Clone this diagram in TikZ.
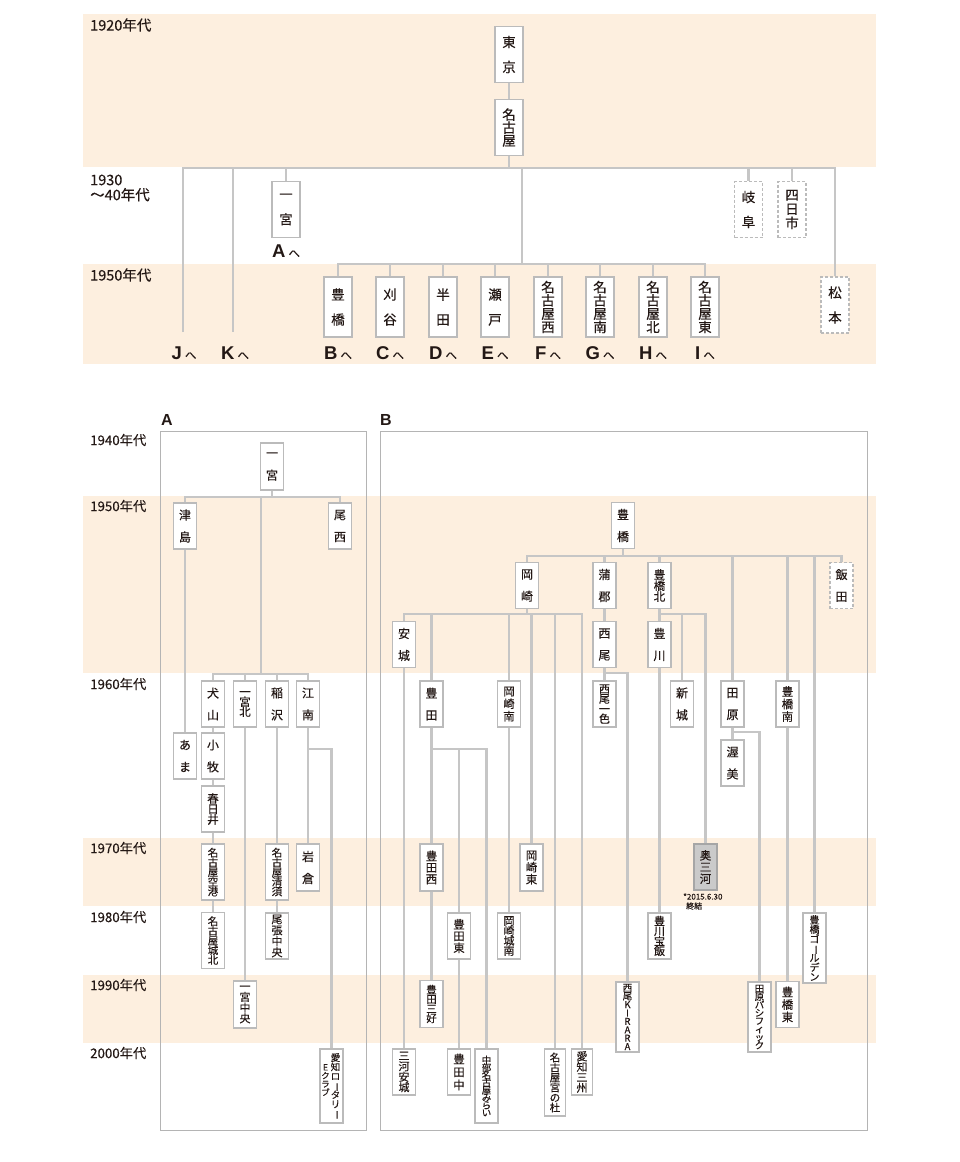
\documentclass[tikz,border=0pt]{standalone}
\usepackage{fontspec}
\usepackage{graphicx}
\setmainfont{Noto Sans CJK JP}
\newfontfamily\jpm{Noto Sans CJK JP}[FakeBold=0.3]
\newfontfamily\lsans{Liberation Sans}
\definecolor{bandc}{HTML}{FDEFDF}
\definecolor{lnc}{HTML}{C6C6C6}
\definecolor{bdc}{HTML}{BBBBBB}
\definecolor{frc}{HTML}{B4B4B4}
\definecolor{txc}{HTML}{231815}
\definecolor{gfill}{HTML}{CACACA}
\newcommand{\vlong}{\rotatebox[origin=c]{-90}{ー}}
\lineskiplimit=-50pt
\lineskip=0pt
\begin{document}
\begin{tikzpicture}[x=1pt,y=-1pt,
 ln/.style={draw=lnc,line width=2.4pt,line join=miter},
 bx/.style={draw=bdc,line width=1.6pt,fill=white,inner sep=0pt,align=center,text=txc},
 tbox/.style={bx,minimum width=28pt,minimum height=56pt,font=\jpm\fontsize{13.5}{13}\selectfont},
 sbox/.style={bx,minimum width=23pt,minimum height=46pt,font=\jpm\fontsize{12}{11.5}\selectfont},
 sz/.style 2 args={font=\jpm\fontsize{#1}{#2}\selectfont},
 dsh/.style={dash pattern=on 3pt off 2pt},
 yr/.style={anchor=west,text=txc,inner sep=0pt,align=left,font=\jpm\fontsize{14.5}{15}\selectfont},
 yrb/.style={anchor=west,text=txc,inner sep=0pt,font=\jpm\fontsize{13.3}{14}\selectfont},
 goto/.style={text=txc,inner sep=0pt,font=\lsans\bfseries\fontsize{18.5}{18}\selectfont},
 sec/.style={anchor=west,text=txc,inner sep=0pt,font=\lsans\bfseries\fontsize{16}{16}\selectfont},
]
\useasboundingbox (0,0) rectangle (960,1162);
% ---------- bands ----------
\fill[bandc] (83,14) rectangle (876,167);
\fill[bandc] (83,264) rectangle (876,364);
\fill[bandc] (83,496) rectangle (876,673);
\fill[bandc] (83,838) rectangle (876,906);
\fill[bandc] (83,975) rectangle (876,1043);
% frames
\draw[frc,line width=0.9pt] (160,431) rectangle (366,1130);
\draw[frc,line width=0.9pt] (380,431) rectangle (867,1130);
% ---------- year labels ----------
\node[yr] (y1920) at (90,25) {1920年代};
\node[yr] (y1930) at (90,188) {1930\\～40年代};
\node[yr] (y1950t) at (90,275) {1950年代};
\node[yrb] (y1940) at (90,440) {1940年代};
\node[yrb] (y1950) at (90,506) {1950年代};
\node[yrb] (y1960) at (90,684) {1960年代};
\node[yrb] (y1970) at (90,848) {1970年代};
\node[yrb] (y1980) at (90,917) {1980年代};
\node[yrb] (y1990) at (90,985) {1990年代};
\node[yrb] (y2000) at (90,1053) {2000年代};
\node[sec] (secA) at (161,420) {A};
\node[sec] (secB) at (380,420) {B};
% ---------- top nodes ----------
\node[tbox] (tokyo) at (509,54.5) {東\\[12pt]京};
\node[tbox] (nagoya) at (509,127.5) {名\\古\\屋};
\node[tbox] (ichi0) at (286,209.5) {一\\[12pt]宮};
\node[tbox,dsh] (gifu) at (748.5,209.5) {岐\\[12pt]阜};
\node[tbox,dsh,font=\jpm\fontsize{13.5}{14}\selectfont] (yokka) at (792,209.5) {四\\日\\市};
\node[tbox,dsh] (matsu) at (835,305) {松\\[12pt]本};
\node[tbox,minimum height=60pt] (toyo0) at (338,307) {豊\\[12pt]橋};
\node[tbox,minimum height=60pt] (kariya) at (390,307) {刈\\[12pt]谷};
\node[tbox,minimum height=60pt] (handa) at (443,307) {半\\[12pt]田};
\node[tbox,minimum height=60pt] (seto) at (495,307) {瀬\\[12pt]戸};
\node[tbox,minimum height=60pt,font=\jpm\fontsize{13.5}{13.3}\selectfont] (nnishi) at (548,307) {名\\古\\屋\\西};
\node[tbox,minimum height=60pt,font=\jpm\fontsize{13.5}{13.3}\selectfont] (nminami) at (600,307) {名\\古\\屋\\南};
\node[tbox,minimum height=60pt,font=\jpm\fontsize{13.5}{13.3}\selectfont] (nkita) at (653,307) {名\\古\\屋\\北};
\node[tbox,minimum height=60pt,font=\jpm\fontsize{13.5}{13.3}\selectfont] (nhigashi) at (705,307) {名\\古\\屋\\東};
% labels
\node[goto] (lA) at (286,251) {A\,{\jpm\mdseries\fontsize{11.5}{11}\selectfont へ}};
\node[goto] (lJ) at (184,353) {J\,{\jpm\mdseries\fontsize{11.5}{11}\selectfont へ}};
\node[goto] (lK) at (235,353) {K\,{\jpm\mdseries\fontsize{11.5}{11}\selectfont へ}};
\node[goto] (lB) at (338,353) {B\,{\jpm\mdseries\fontsize{11.5}{11}\selectfont へ}};
\node[goto] (lC) at (390,353) {C\,{\jpm\mdseries\fontsize{11.5}{11}\selectfont へ}};
\node[goto] (lD) at (443,353) {D\,{\jpm\mdseries\fontsize{11.5}{11}\selectfont へ}};
\node[goto] (lE) at (495,353) {E\,{\jpm\mdseries\fontsize{11.5}{11}\selectfont へ}};
\node[goto] (lF) at (548,353) {F\,{\jpm\mdseries\fontsize{11.5}{11}\selectfont へ}};
\node[goto] (lG) at (600,353) {G\,{\jpm\mdseries\fontsize{11.5}{11}\selectfont へ}};
\node[goto] (lH) at (653,353) {H\,{\jpm\mdseries\fontsize{11.5}{11}\selectfont へ}};
\node[goto] (lI) at (705,353) {I\,{\jpm\mdseries\fontsize{11.5}{11}\selectfont へ}};
% top connectors
\coordinate (h1a) at (183,168);
\coordinate (h1b) at (835,168);
\coordinate (jend) at (183,332);
\coordinate (kt) at (233,168);
\coordinate (kend) at (233,332);
\coordinate (m50) at (522,168);
\coordinate (m50b) at (522,264);
\draw[ln] (tokyo) -- (nagoya);
\draw[ln] (nagoya.south) -- (nagoya.south |- h1a);
\draw[ln] (jend) -- (h1a) -- (h1b) -- (matsu.north);
\draw[ln] (kt) -- (kend);
\draw[ln] (ichi0.north |- h1a) -- (ichi0.north);
\draw[ln] (gifu.north |- h1a) -- (gifu.north);
\draw[ln] (yokka.north |- h1a) -- (yokka.north);
\draw[ln] (m50) -- (m50b);
\draw[ln] (toyo0.north) -- (toyo0.north |- m50b) -- (nhigashi.north |- m50b) -- (nhigashi.north);
\foreach \n in {kariya,handa,seto,nnishi,nminami,nkita}
  \draw[ln] (\n.north |- m50b) -- (\n.north);
% ---------- frame A ----------
\node[sbox,minimum height=47pt] (ichi) at (272,466.5) {一\\[10.5pt]宮};
\node[sbox] (tsushima) at (185,526) {津\\[10.5pt]島};
\node[sbox] (bisai) at (340,526) {尾\\[10.5pt]西};
\node[sbox] (inuyama) at (213,704) {犬\\[10.5pt]山};
\node[sbox,sz={11.5}{10}] (ichikita) at (245,704) {一\\宮\\北};
\node[sbox] (inazawa) at (277,704) {稲\\[10.5pt]沢};
\node[sbox] (konan) at (308,704) {江\\[10.5pt]南};
\node[sbox] (ama) at (185,756) {あ\\[10.5pt]ま};
\node[sbox] (komaki) at (213,756) {小\\[10.5pt]牧};
\node[sbox,sz={11.5}{10.5}] (kasugai) at (213,809) {春\\日\\井};
\node[sbox,minimum height=56pt,sz={10.5}{9.7}] (nkuko) at (213,872) {名\\古\\屋\\空\\港};
\node[sbox,minimum height=56pt,sz={10.5}{9.7}] (njohoku) at (213,940.5) {名\\古\\屋\\城\\北};
\node[sbox,minimum height=47pt,sz={11}{10.7}] (ichichuo) at (245,1004.5) {一\\宮\\中\\央};
\node[sbox,minimum height=56pt,sz={10.5}{9.7}] (nkiyosu) at (277,872) {名\\古\\屋\\清\\須};
\node[sbox,sz={11}{11}] (owari) at (277,936) {尾\\張\\中\\央};
\node[sbox,minimum height=47pt] (iwakura) at (308,867.5) {岩\\[10.5pt]倉};
\node[sbox,minimum height=74pt] (aichirot) at (331.5,1086) {};
\node[inner sep=0pt,align=center,text=txc,anchor=north,font=\jpm\fontsize{9.5}{9.3}\selectfont] (arot1) at (335.5,1053) {愛\\知\\ロ\\\vlong\\タ\\リ\\\vlong};
\node[inner sep=0pt,align=center,text=txc,anchor=north,font=\jpm\fontsize{8.5}{8.4}\selectfont] (arot2) at (325.5,1064) {E\\ク\\ラ\\ブ};
% frame A connectors
\coordinate (a1) at (261,497);
\coordinate (a2) at (261,674);
\coordinate (a3) at (308,749);
\draw[ln] (ichi.south) -- (ichi.south |- a1);
\draw[ln] (tsushima.north) -- (tsushima.north |- a1) -- (bisai.north |- a1) -- (bisai.north);
\draw[ln] (a1) -- (a2);
\draw[ln] (inuyama.north) -- (inuyama.north |- a2) -- (konan.north |- a2) -- (konan.north);
\draw[ln] (ichikita.north |- a2) -- (ichikita.north);
\draw[ln] (inazawa.north |- a2) -- (inazawa.north);
\draw[ln] (tsushima) -- (ama);
\draw[ln] (inuyama) -- (komaki);
\draw[ln] (komaki) -- (kasugai);
\draw[ln] (kasugai) -- (nkuko);
\draw[ln] (nkuko) -- (njohoku);
\draw[ln] (ichikita) -- (ichichuo);
\draw[ln] (inazawa) -- (nkiyosu);
\draw[ln] (nkiyosu) -- (owari);
\draw[ln] (konan) -- (iwakura);
\draw[ln] (a3) -- (aichirot.north |- a3) -- (aichirot.north);
% ---------- frame B ----------
\node[sbox] (toyohashi) at (623,525.5) {豊\\[10.5pt]橋};
\node[sbox] (okazaki) at (527,585.5) {岡\\[10.5pt]崎};
\node[sbox] (gamagori) at (604.5,585.5) {蒲\\[10.5pt]郡};
\node[sbox,sz={11.5}{11}] (tkita) at (659.5,585.5) {豊\\橋\\北};
\node[sbox,dsh] (iida) at (841.5,585.5) {飯\\[10.5pt]田};
\node[sbox] (anjo) at (404,644.5) {安\\[10.5pt]城};
\node[sbox] (nishio) at (604.5,644.5) {西\\[10.5pt]尾};
\node[sbox] (toyokawa) at (659.5,644.5) {豊\\[10.5pt]川};
\node[sbox] (toyota) at (431.5,704) {豊\\[10.5pt]田};
\node[sbox,sz={11.5}{12.5}] (okminami) at (509,704) {岡\\崎\\南};
\node[sbox,sz={11}{10}] (nishioisshiki) at (604.5,704) {西\\尾\\一\\色};
\node[sbox] (shinshiro) at (682,704) {新\\[10.5pt]城};
\node[sbox] (tahara) at (732.5,704) {田\\[10.5pt]原};
\node[sbox,sz={11.5}{12.5}] (tminami) at (787.5,704) {豊\\橋\\南};
\node[sbox] (atsumi) at (732.5,763) {渥\\[10.5pt]美};
\node[sbox,minimum height=47pt,sz={11.5}{11.5}] (toyotanishi) at (431.5,867.5) {豊\\田\\西};
\node[sbox,minimum height=47pt,sz={11.5}{12}] (okhigashi) at (531.5,867.5) {岡\\崎\\東};
\node[sbox,fill=gfill,draw=gray!70,sz={11.5}{11.7}] (okumikawa) at (705.5,867) {奥\\三\\河};
\node[inner sep=0pt,anchor=north west,align=left,text=txc,font=\jpm\fontsize{8}{9.5}\selectfont] (note) at (683,893) {*2015.6.30\\\hspace*{3pt}終結};
\node[sbox,sz={11.5}{11.7}] (toyotahigashi) at (459,936) {豊\\田\\東};
\node[sbox,sz={11}{10}] (okjonan) at (509,936) {岡\\崎\\城\\南};
\node[sbox,sz={11}{10}] (toyokawahoi) at (659.5,936) {豊\\川\\宝\\飯};
\node[sbox,minimum height=70pt,sz={10}{9.5}] (tgolden) at (814.5,948) {豊\\橋\\ゴ\\\vlong\\ル\\デ\\ン};
\node[sbox,minimum height=47pt,sz={10.5}{9.5}] (toyotamiyoshi) at (431.5,1004) {豊\\田\\三\\好};
\node[sbox,minimum height=70pt,sz={9.5}{8.4}] (nkirara) at (627.5,1017) {西\\尾\\K\\I\\R\\A\\R\\A};
\node[sbox,minimum height=70pt,sz={9.5}{8.1}] (taharapac) at (759.5,1017) {田\\原\\パ\\シ\\フ\\ィ\\ッ\\ク};
\node[sbox,sz={11.5}{12.5}] (thigashi) at (787.5,1004.5) {豊\\橋\\東};
\node[sbox,sz={11}{10.5}] (mikawaanjo) at (404,1072) {三\\河\\安\\城};
\node[sbox,sz={11.5}{13}] (toyotanaka) at (459,1072) {豊\\田\\中};
\node[sbox,minimum height=74pt,sz={9.5}{7.5}] (chubu) at (486.5,1086) {中\\部\\名\\古\\屋\\み\\ら\\い};
\node[sbox,minimum width=21pt,minimum height=67pt,sz={10.5}{10}] (miyanomori) at (555,1082.5) {名\\古\\屋\\宮\\の\\杜};
\node[sbox,minimum width=21pt,sz={11}{10.5}] (aichisanshu) at (582,1072) {愛\\知\\三\\州};
% frame B connectors
\coordinate (b1) at (623,556);
\coordinate (b2) at (527,614);
\coordinate (b3) at (604.5,673);
\coordinate (b4) at (659.5,614);
\coordinate (b5) at (732.5,732);
\coordinate (b6) at (431.5,749);
\draw[ln] (toyohashi.south) -- (b1);
\draw[ln] (okazaki.north) -- (okazaki.north |- b1) -- (iida.north |- b1) -- (iida.north);
\foreach \n in {gamagori,tkita,tahara,tminami,tgolden}
  \draw[ln] (\n.north |- b1) -- (\n.north);
\draw[ln] (okazaki.south) -- (b2);
\draw[ln] (anjo.north) -- (anjo.north |- b2) -- (aichisanshu.north |- b2) -- (aichisanshu.north);
\foreach \n in {toyota,okminami,okhigashi,miyanomori}
  \draw[ln] (\n.north |- b2) -- (\n.north);
\draw[ln] (anjo) -- (mikawaanjo);
\draw[ln] (gamagori) -- (nishio);
\draw[ln] (nishio) -- (nishioisshiki);
\draw[ln] (b3) -- (nkirara.north |- b3) -- (nkirara.north);
\draw[ln] (tkita) -- (toyokawa);
\draw[ln] (b4) -- (okumikawa.north |- b4) -- (okumikawa.north);
\draw[ln] (shinshiro.north |- b4) -- (shinshiro.north);
\draw[ln] (toyokawa) -- (toyokawahoi);
\draw[ln] (tahara) -- (atsumi);
\draw[ln] (b5) -- (taharapac.north |- b5) -- (taharapac.north);
\draw[ln] (tminami) -- (thigashi);
\draw[ln] (toyota) -- (toyotanishi);
\draw[ln] (toyotanishi) -- (toyotamiyoshi);
\draw[ln] (b6) -- (chubu.north |- b6) -- (chubu.north);
\draw[ln] (toyotahigashi.north |- b6) -- (toyotahigashi.north);
\draw[ln] (toyotahigashi) -- (toyotanaka);
\draw[ln] (okminami) -- (okjonan);
\end{tikzpicture}
\end{document}
